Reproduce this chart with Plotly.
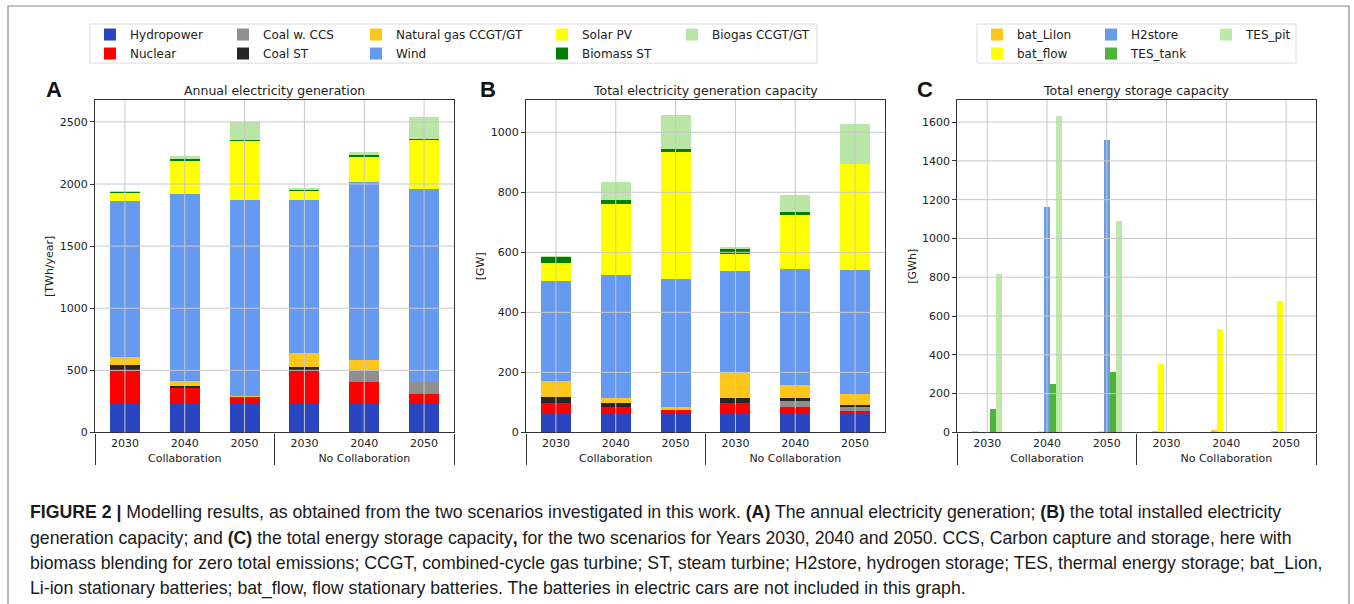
import plotly.graph_objects as go

# ---------------- data ----------------
scenarios = ["Collaboration"] * 3 + ["No Collaboration"] * 3
years = ["2030", "2040", "2050"] * 2

gen_series = ["Hydropower", "Nuclear", "Coal w. CCS", "Coal ST", "Natural gas CCGT/GT",
              "Wind", "Solar PV", "Biomass ST", "Biogas CCGT/GT"]

# Panel A: annual electricity generation [TWh/year]
a_hydro   = [240, 240, 240, 240, 240, 240]
a_nuclear = [263, 117, 50, 257, 163, 69]
a_ccs     = [0, 0, 0, 0, 100, 100]
a_coalst  = [40, 19, 0, 33, 0, 0]
a_gas     = [67, 35, 2, 107, 83, 0]
a_wind    = [1250, 1508, 1582, 1237, 1430, 1551]
a_solar   = [70, 270, 476, 70, 205, 400]
a_biomass = [6, 13, 6, 8, 10, 2]
a_biogas  = [4, 24, 144, 8, 24, 178]

# Panel B: total electricity generation capacity [GW]
b_hydro   = [60, 60, 60, 60, 60, 60]
b_nuclear = [38, 24, 15, 37, 24, 13]
b_ccs     = [0, 0, 0, 0, 20, 13]
b_coalst  = [19, 13, 0, 18, 11, 7]
b_gas     = [54, 16, 9, 85, 44, 35]
b_wind    = [335, 411, 427, 337, 385, 412]
b_solar   = [58, 236, 426, 59, 179, 354]
b_biomass = [20, 13, 6, 17, 11, 0]
b_biogas  = [1, 62, 114, 2, 58, 132]

# Panel C: total energy storage capacity [GWh]
stor_series = ["bat_LiIon", "bat_flow", "H2store", "TES_tank", "TES_pit"]
c_bat_liion = [2, 0, 0, 2, 10, 8]
c_bat_flow  = [0, 6, 4, 355, 534, 676]
c_h2store   = [0, 1160, 1510, 0, 0, 0]
c_tes_tank  = [119, 250, 314, 0, 0, 0]
c_tes_pit   = [817, 1630, 1090, 0, 0, 0]

gen_colors = ["#2a45c2", "#ff0000", "#8f8f8f", "#262626", "#ffc61a",
              "#6699f0", "#ffff00", "#007f00", "#b9e5a7"]
stor_colors = ["#ffc61a", "#ffff00", "#6a9be8", "#4fb33a", "#bde8a8"]

a_values = [a_hydro, a_nuclear, a_ccs, a_coalst, a_gas, a_wind, a_solar, a_biomass, a_biogas]
b_values = [b_hydro, b_nuclear, b_ccs, b_coalst, b_gas, b_wind, b_solar, b_biomass, b_biogas]
c_values = [c_bat_liion, c_bat_flow, c_h2store, c_tes_tank, c_tes_pit]

# legend column each series belongs to (matplotlib ncol layout)
gen_legend_cols = ["legend", "legend", "legend2", "legend2", "legend3",
                   "legend3", "legend4", "legend4", "legend5"]
stor_legend_cols = ["legend6", "legend6", "legend7", "legend7", "legend8"]

# ---------------- figure ----------------
W, H = 1354, 604          # reference picture size (layout positions are given in these pixels)
FIG_H = 612               # rendered height (the captured page is scaled back to 604)
FONT = "DejaVu Sans"
xcat = [scenarios, years]

fig = go.Figure()

for name, vals, col, lg in zip(gen_series, a_values, gen_colors, gen_legend_cols):
    fig.add_trace(go.Bar(x=xcat, y=vals, name=name, marker_color=col, marker_line_width=0,
                         xaxis="x", yaxis="y", legend=lg, legendgroup=name, showlegend=True))
for name, vals, col in zip(gen_series, b_values, gen_colors):
    fig.add_trace(go.Bar(x=xcat, y=vals, name=name, marker_color=col, marker_line_width=0,
                         xaxis="x2", yaxis="y2", legendgroup=name, showlegend=False))
for i, (name, vals, col, lg) in enumerate(zip(stor_series, c_values, stor_colors, stor_legend_cols)):
    fig.add_trace(go.Bar(x=xcat, y=vals, name=name, marker_color=col, marker_line_width=0,
                         xaxis="x3", yaxis="y3", offsetgroup="g%d" % i, legend=lg,
                         legendgroup=name, showlegend=True))


def px_x(p):
    return p / W


def px_y(p):
    return 1 - p / H


ydom = [px_y(431.7), px_y(100)]
xdoms = [[px_x(95), px_x(454)], [px_x(526), px_x(885)], [px_x(957.3), px_x(1316)]]
yranges = [[0, 2675], [0, 1107], [0, 1713]]
ydticks = [500, 200, 200]
ytitles = ["[TWh/year]", "[GW]", "[GWh]"]
GRID = "#c8c8c8"

axis_common = dict(showline=True, mirror=True, linecolor="#333333", linewidth=1.2,
                   showgrid=False,
                   tickfont=dict(family=FONT, size=11, color="#222222"), zeroline=False)

shapes = []
for k in range(3):
    sx = "" if k == 0 else str(k + 1)
    fig.update_layout({
        "xaxis" + sx: dict(domain=xdoms[k], anchor="y" + sx, type="multicategory",
                          dividercolor="#333333", dividerwidth=1.3, showdividers=True,
                          ticks="", **axis_common),
        "yaxis" + sx: dict(domain=ydom, anchor="x" + sx, range=yranges[k], dtick=ydticks[k],
                          ticks="outside", ticklen=4, tickcolor="#333333",
                          title=dict(text=ytitles[k], font=dict(family=FONT, size=11, color="#222222"),
                                     standoff=3),
                          **axis_common),
    })
    # matplotlib-style grid drawn above the bars
    n_cat = len(years)
    for i in range(n_cat):
        shapes.append(dict(type="line", xref="x%s domain" % sx, yref="y%s domain" % sx,
                           x0=(i + 0.5) / n_cat, x1=(i + 0.5) / n_cat, y0=0, y1=1,
                           line=dict(color=GRID, width=1), layer="above"))
    t = ydticks[k]
    while t < yranges[k][1]:
        shapes.append(dict(type="line", xref="x%s domain" % sx, yref="y" + sx,
                           x0=0, x1=1, y0=t, y1=t,
                           line=dict(color=GRID, width=1), layer="above"))
        t += ydticks[k]

# legends (one per matplotlib legend column)
legend_x = {"legend": 90, "legend2": 223, "legend3": 356, "legend4": 542, "legend5": 672,
            "legend6": 977, "legend7": 1091, "legend8": 1206}
leg_layout = {}
for lg, xp in legend_x.items():
    leg_layout[lg] = dict(x=px_x(xp), xanchor="left", y=px_y(20), yanchor="top",
                          orientation="v", bgcolor="rgba(0,0,0,0)", borderwidth=0,
                          font=dict(family=FONT, size=12, color="#222222"),
                          tracegroupgap=0, itemclick=False, itemdoubleclick=False)
fig.update_layout(**leg_layout)

shapes += [
    # legend frames
    dict(type="rect", xref="paper", yref="paper", x0=px_x(90), x1=px_x(817), y0=px_y(63), y1=px_y(24),
         line=dict(color="#dcdcdc", width=1), fillcolor="rgba(255,255,255,0.8)", layer="below"),
    dict(type="rect", xref="paper", yref="paper", x0=px_x(977), x1=px_x(1296), y0=px_y(63), y1=px_y(24),
         line=dict(color="#dcdcdc", width=1), fillcolor="rgba(255,255,255,0.8)", layer="below"),
    # outer figure frame
    dict(type="rect", xref="paper", yref="paper", x0=px_x(8), x1=px_x(1349), y0=-0.05, y1=px_y(6),
         line=dict(color="#8a8a8a", width=1.2), layer="below"),
]

annotations = []
titles = ["Annual electricity generation", "Total electricity generation capacity",
          "Total energy storage capacity"]
letters = ["A", "B", "C"]
letter_x = [54, 488, 925]
for k in range(3):
    cx = (xdoms[k][0] + xdoms[k][1]) / 2
    annotations.append(dict(text=titles[k], x=cx, y=px_y(90), xref="paper", yref="paper",
                            showarrow=False, xanchor="center", yanchor="middle",
                            font=dict(family=FONT, size=12.5, color="#222222")))
    annotations.append(dict(text="<b>%s</b>" % letters[k], x=px_x(letter_x[k]), y=px_y(89),
                            xref="paper", yref="paper", showarrow=False, xanchor="center",
                            yanchor="middle", font=dict(family="Liberation Sans", size=22, color="#111111")))

caption_lines = [
    "<b>FIGURE 2 |</b> Modelling results, as obtained from the two scenarios investigated in this work. "
    "<b>(A)</b> The annual electricity generation; <b>(B)</b> the total installed electricity",
    "generation capacity; and <b>(C)</b> the total energy storage capacity<b>,</b> for the two scenarios "
    "for Years 2030, 2040 and 2050. CCS, Carbon capture and storage, here with",
    "biomass blending for zero total emissions; CCGT, combined-cycle gas turbine; ST, steam turbine; "
    "H2store, hydrogen storage; TES, thermal energy storage; bat_Lion,",
    "Li-ion stationary batteries; bat_flow, flow stationary batteries. The batteries in electric cars "
    "are not included in this graph.",
]
caption_y = [511.5, 537, 562.5, 588]
for line, yy in zip(caption_lines, caption_y):
    annotations.append(dict(text=line, x=px_x(28), y=px_y(yy), xref="paper", yref="paper",
                            showarrow=False, xanchor="left", yanchor="middle",
                            font=dict(family="Liberation Sans", size=17.7, color="#1a1a1a")))

fig.update_layout(
    width=W, height=FIG_H, margin=dict(l=0, r=0, t=0, b=0),
    paper_bgcolor="white", plot_bgcolor="white",
    barmode="stack", bargap=0.5, bargroupgap=0,
    shapes=shapes, annotations=annotations,
    font=dict(family=FONT, color="#222222"),
)

page_fix = (
    "document.documentElement.style.margin='0px';"
    "document.body.style.margin='0px';"
)
fig.write_html("out.html", config={"displayModeBar": False}, post_script=page_fix)
